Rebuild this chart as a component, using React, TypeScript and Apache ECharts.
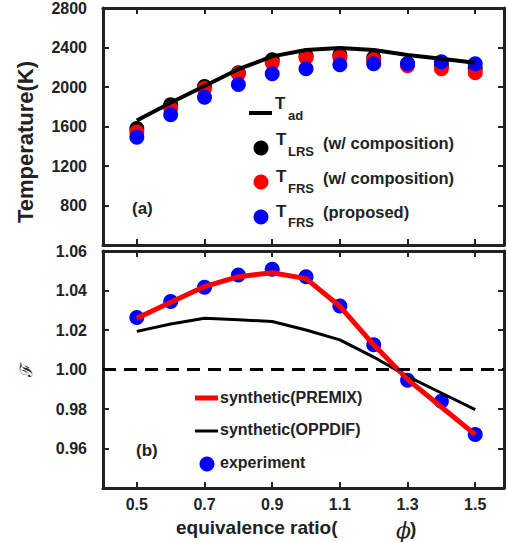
import React, { useEffect, useRef } from "react";
import * as echarts from "echarts";

// ---- data ----
const phi = [0.5, 0.6, 0.7, 0.8, 0.9, 1.0, 1.1, 1.2, 1.3, 1.4, 1.5];
const tAd = [1660, 1840, 2010, 2180, 2310, 2375, 2395, 2375, 2325, 2285, 2245];
const tLRS = [1580, 1820, 2005, 2145, 2275, 2315, 2325, 2295, 2235, 2215, 2185];
const tFRSComp = [1545, 1785, 1985, 2135, 2245, 2295, 2305, 2275, 2215, 2185, 2145];
const tFRSProp = [1490, 1720, 1895, 2025, 2135, 2185, 2225, 2235, 2235, 2255, 2235];
const fPremix = [1.026, 1.034, 1.042, 1.047, 1.049, 1.046, 1.032, 1.0125, 0.995, 0.981, 0.967];
const fOppdif = [1.0193, 1.023, 1.026, 1.0252, 1.0243, 1.02, 1.015, 1.0063, 0.9965, 0.9881, 0.9797];
const fExp = [1.0263, 1.0344, 1.0417, 1.0479, 1.0508, 1.047, 1.0322, 1.0125, 0.9945, 0.9839, 0.9671];
const xTicks = [0.5, 0.7, 0.9, 1.1, 1.3, 1.5];
const tempRange = [400, 2800];
const tempStep = 400;
const fRange = [0.94, 1.06];
const fStep = 0.02;
const fReference = 1.0;

const INK = "#222";
const FONT = "Arial, 'Liberation Sans', sans-serif";

const pairs = (ys: number[]) => phi.map((x, i) => [x, ys[i]]);

function frameX(grid: number, pos: "top" | "bottom", labels: boolean) {
  return {
    type: "value",
    gridIndex: grid,
    position: pos,
    min: 0.4,
    max: 1.585,
    axisLine: { show: true, onZero: false, lineStyle: { color: INK, width: 3 } },
    axisTick: { show: true, inside: true, length: 6, customValues: xTicks, lineStyle: { color: INK, width: 2 } },
    axisLabel: labels
      ? {
          show: true,
          customValues: xTicks,
          margin: 8,
          color: INK,
          fontSize: 16,
          fontWeight: "bold",
          fontFamily: FONT,
          formatter: (v: number) => v.toFixed(1),
        }
      : { show: false },
    splitLine: { show: false },
  };
}

function frameY(grid: number, pos: "left" | "right", range: number[], step: number, labels: boolean, digits: number) {
  return {
    type: "value",
    gridIndex: grid,
    position: pos,
    min: range[0],
    max: range[1],
    interval: step,
    axisLine: { show: true, onZero: false, lineStyle: { color: INK, width: 3 } },
    axisTick: { show: true, inside: true, length: 6, lineStyle: { color: INK, width: 2 } },
    axisLabel: labels
      ? {
          show: true,
          showMinLabel: false,
          margin: 16,
          color: INK,
          fontSize: 16,
          fontWeight: "bold",
          fontFamily: FONT,
          padding: [0, 0, 7, 0],
          formatter: (v: number) => v.toFixed(digits),
        }
      : { show: false },
    splitLine: { show: false },
  };
}

const txt = (text: string, x: number, y: number, size: number, extra: any = {}) => ({
  type: "text",
  x,
  y,
  style: {
    text,
    fill: INK,
    fontSize: size,
    fontWeight: "bold",
    fontFamily: FONT,
    align: "left",
    verticalAlign: "middle",
    textAlign: "left",
    textVerticalAlign: "middle",
    ...extra,
  },
});

const dot = (color: string) => ({ color, opacity: 1 });

export default function App() {
  const ref = useRef<HTMLDivElement>(null);

  useEffect(() => {
    if (!ref.current) return;
    const chart = echarts.init(ref.current, undefined, { renderer: "svg" });

    const option: any = {
      animation: false,
      backgroundColor: "#fff",
      grid: [
        { left: 103, top: 7, width: 401, height: 238 },
        { left: 103, top: 251, width: 401, height: 237 },
      ],
      xAxis: [
        frameX(0, "bottom", false),
        frameX(0, "top", false),
        frameX(1, "bottom", true),
        frameX(1, "top", false),
      ],
      yAxis: [
        frameY(0, "left", tempRange, tempStep, true, 0),
        frameY(0, "right", tempRange, tempStep, false, 0),
        frameY(1, "left", fRange, fStep, true, 2),
        frameY(1, "right", fRange, fStep, false, 2),
      ],
      series: [
        {
          name: "T_ad",
          type: "line",
          xAxisIndex: 0,
          yAxisIndex: 0,
          data: pairs(tAd),
          symbol: "none",
          lineStyle: { color: "#000", width: 4 },
        },
        {
          name: "T_LRS",
          type: "scatter",
          xAxisIndex: 0,
          yAxisIndex: 0,
          data: pairs(tLRS),
          symbolSize: 15,
          itemStyle: dot("#000"),
        },
        {
          name: "T_FRS comp",
          type: "scatter",
          xAxisIndex: 0,
          yAxisIndex: 0,
          data: pairs(tFRSComp),
          symbolSize: 15,
          itemStyle: dot("#ff0000"),
        },
        {
          name: "T_FRS proposed",
          type: "scatter",
          xAxisIndex: 0,
          yAxisIndex: 0,
          data: pairs(tFRSProp),
          symbolSize: 15,
          itemStyle: dot("#0000ff"),
        },
        {
          name: "synthetic(OPPDIF)",
          type: "line",
          xAxisIndex: 2,
          yAxisIndex: 2,
          data: pairs(fOppdif),
          symbol: "none",
          lineStyle: { color: "#000", width: 3 },
          markLine: {
            silent: true,
            symbol: "none",
            label: { show: false },
            lineStyle: { color: "#000", width: 3, type: [13, 8] },
            data: [{ yAxis: fReference }],
          },
        },
        {
          name: "synthetic(PREMIX)",
          type: "line",
          xAxisIndex: 2,
          yAxisIndex: 2,
          data: pairs(fPremix),
          symbol: "none",
          lineStyle: { color: "#ff0000", width: 5 },
        },
        {
          name: "experiment",
          type: "scatter",
          xAxisIndex: 2,
          yAxisIndex: 2,
          data: pairs(fExp),
          symbolSize: 15,
          itemStyle: dot("#0000ff"),
        },
      ],
      graphic: [
        // axis titles
        {
          type: "text",
          x: 25,
          y: 142,
          rotation: Math.PI / 2,
          style: {
            text: "Temperature(K)",
            fill: INK,
            fontSize: 22,
            fontWeight: "bold",
            fontFamily: FONT,
            align: "center",
            verticalAlign: "middle",
            textAlign: "center",
            textVerticalAlign: "middle",
          },
        },
        {
          type: "text",
          x: 26,
          y: 370,
          rotation: Math.PI / 2,
          style: {
            text: "ℱ",
            fill: INK,
            fontSize: 17,
            fontFamily: "'DejaVu Serif', serif",
            align: "center",
            verticalAlign: "middle",
            textAlign: "center",
            textVerticalAlign: "middle",
          },
        },
        txt("equivalence ratio(", 176, 527, 19),
        txt("ϕ", 396, 530, 22, { fontWeight: "normal", fontStyle: "italic", fontFamily: "'DejaVu Serif', serif" }),
        txt(")", 410, 528, 19),
        // panel tags
        txt("(a)", 132, 208, 17),
        txt("(b)", 136, 450, 17),
        // legend (a)
        { type: "line", shape: { x1: 249, y1: 113, x2: 272, y2: 113 }, style: { stroke: "#000", lineWidth: 4 } },
        txt("T", 275, 103, 17),
        txt("ad", 288, 115, 13),
        { type: "circle", shape: { cx: 261, cy: 148, r: 7.5 }, style: { fill: "#000" } },
        txt("T", 276, 139, 17),
        txt("LRS", 288, 151, 13),
        txt("(w/ composition)", 323, 142.5, 16.5),
        { type: "circle", shape: { cx: 261, cy: 182, r: 7.5 }, style: { fill: "#ff0000" } },
        txt("T", 276, 176, 17),
        txt("FRS", 288, 188, 13),
        txt("(w/ composition)", 323, 177.5, 16.5),
        { type: "circle", shape: { cx: 261, cy: 217, r: 7.5 }, style: { fill: "#0000ff" } },
        txt("T", 276, 211, 17),
        txt("FRS", 288, 222, 13),
        txt("(proposed)", 323, 211.5, 16.5),
        // legend (b)
        { type: "line", shape: { x1: 195, y1: 398, x2: 218, y2: 398 }, style: { stroke: "#ff0000", lineWidth: 5 } },
        txt("synthetic(PREMIX)", 220, 397.5, 16),
        { type: "line", shape: { x1: 195, y1: 431, x2: 218, y2: 431 }, style: { stroke: "#000", lineWidth: 3 } },
        txt("synthetic(OPPDIF)", 220, 429.5, 16),
        { type: "circle", shape: { cx: 207, cy: 464, r: 7.5 }, style: { fill: "#0000ff" } },
        txt("experiment", 220, 462, 16),
      ],
    };

    chart.setOption(option);
    return () => chart.dispose();
  }, []);

  return (
    <div
      ref={ref}
      style={{ position: "absolute", left: 0, top: 0, width: 508, height: 542, background: "#fff" }}
    />
  );
}
